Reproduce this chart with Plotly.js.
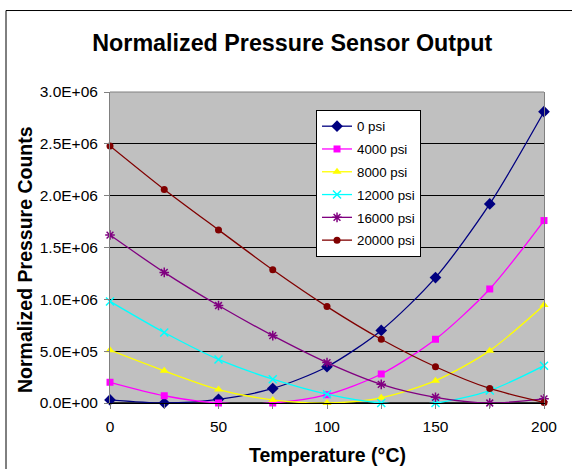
<!DOCTYPE html>
<html>
<head>
<meta charset="utf-8">
<script src="https://cdn.plot.ly/plotly-3.0.1.min.js"></script>
<style>html,body{margin:0;padding:0;background:#fff;}#chart{width:572px;height:469px;}</style>
</head>
<body>
<div id="chart"></div>
<script>
const temperature = [0, 25, 50, 75, 100, 125, 150, 175, 200];
const psi0     = [0.03e6, 0.00e6, 0.035e6, 0.14e6, 0.35e6, 0.70e6, 1.21e6, 1.92e6, 2.81e6];
const psi4000  = [0.20e6, 0.07e6, 0.00e6, 0.00e6, 0.08e6, 0.28e6, 0.615e6, 1.10e6, 1.76e6];
const psi8000  = [0.51e6, 0.31e6, 0.13e6, 0.03e6, 0.00e6, 0.05e6, 0.215e6, 0.505e6, 0.945e6];
const psi12000 = [0.98e6, 0.68e6, 0.42e6, 0.23e6, 0.085e6, 0.00e6, 0.00e6, 0.12e6, 0.36e6];
const psi16000 = [1.62e6, 1.26e6, 0.94e6, 0.65e6, 0.39e6, 0.18e6, 0.055e6, 0.00e6, 0.04e6];
const psi20000 = [2.48e6, 2.06e6, 1.67e6, 1.285e6, 0.93e6, 0.615e6, 0.35e6, 0.14e6, 0.005e6];
const seriesNames = ['0 psi', '4000 psi', '8000 psi', '12000 psi', '16000 psi', '20000 psi'];
const xTickVals = [0, 25, 50, 75, 100, 125, 150, 175, 200];
const xTickText = ['0', '', '50', '', '100', '', '150', '', '200'];
const yTickVals = [0, 0.5e6, 1.0e6, 1.5e6, 2.0e6, 2.5e6, 3.0e6];
const yTickText = ['0.0E+00', '5.0E+05', '1.0E+06', '1.5E+06', '2.0E+06', '2.5E+06', '3.0E+06'];

const FONT = 'Liberation Sans, Arial, sans-serif';
const styles = [
  {color: '#000080', symbol: 'diamond', size: 9, lw: 0},
  {color: '#FF00FF', symbol: 'square', size: 7, lw: 0},
  {color: '#FFFF00', symbol: 'triangle-up', size: 8, lw: 0},
  {color: '#00FFFF', symbol: 'x-thin', size: 8, lw: 1.5},
  {color: '#800080', symbol: 'asterisk', size: 8, lw: 1.5},
  {color: '#800000', symbol: 'circle', size: 7, lw: 0}
];
const seriesData = [psi0, psi4000, psi8000, psi12000, psi16000, psi20000];

const traces = seriesData.map((ys, i) => ({
  type: 'scatter', mode: 'lines+markers',
  x: temperature, y: ys, name: seriesNames[i],
  legendgroup: 'g' + i,
  line: {color: styles[i].color, width: 1.3, shape: 'spline', smoothing: 0.8},
  marker: {color: styles[i].color, symbol: styles[i].symbol, size: styles[i].size,
           line: {color: styles[i].color, width: styles[i].lw}},
  cliponaxis: false
}));

const layout = {
  width: 572, height: 469,
  margin: {l: 110, r: 28, t: 92, b: 66},
  paper_bgcolor: '#ffffff',
  plot_bgcolor: '#C0C0C0',
  font: {family: FONT, color: '#000'},
  title: {text: '<b>Normalized Pressure Sensor Output</b>', font: {family: FONT, size: 23.3, color: '#000'},
          x: 0.511, xref: 'container', xanchor: 'center', y: 0.908, yref: 'container', yanchor: 'middle'},
  showlegend: true,
  legend: {x: 0.4747, y: 0.942, xanchor: 'left', yanchor: 'top',
           bgcolor: '#ffffff', bordercolor: '#000', borderwidth: 1,
           font: {family: FONT, size: 13.3, color: '#000'},
           traceorder: 'grouped', tracegroupgap: 2.5},
  xaxis: {range: [0, 200], tickvals: xTickVals, ticktext: xTickText,
          ticks: 'outside', ticklen: 5, tickcolor: '#808080', tickwidth: 1,
          showgrid: false, zeroline: false, showline: true, linecolor: '#000', linewidth: 1,
          tickfont: {family: FONT, size: 15.5, color: '#000'}, ticklabelstandoff: 4},
  yaxis: {range: [0, 3e6], tickvals: yTickVals, ticktext: yTickText,
          ticks: 'outside', ticklen: 5, tickcolor: '#808080', tickwidth: 1,
          showgrid: true, gridcolor: '#000', gridwidth: 1,
          zeroline: false, showline: true, linecolor: '#808080', linewidth: 1, mirror: true,
          tickfont: {family: FONT, size: 15.5, color: '#000'}, ticklabelstandoff: 3},
  shapes: [
    {type: 'line', xref: 'paper', yref: 'paper', x0: 0, x1: 1, y0: 1, y1: 1,
     line: {color: '#808080', width: 1}, layer: 'above'},
    {type: 'line', xref: 'paper', yref: 'paper', x0: 0, x1: 1, y0: 0, y1: 0,
     line: {color: '#000', width: 1.5}, layer: 'below'},
    {type: 'rect', xref: 'paper', yref: 'paper', x0: -0.2396, x1: 1.3, y0: -0.5, y1: 1.262,
     line: {color: '#000', width: 1}, layer: 'below'}
  ],
  annotations: [
    {text: '<b>Normalized Pressure Counts</b>', xref: 'paper', yref: 'paper',
     x: -0.1959, y: 0.463, textangle: -90, showarrow: false,
     xanchor: 'center', yanchor: 'middle', font: {family: FONT, size: 19.5, color: '#000'}},
    {text: '<b>Temperature (°C)</b>', xref: 'paper', yref: 'paper',
     x: 0.5, y: -0.167, showarrow: false,
     xanchor: 'center', yanchor: 'middle', font: {family: FONT, size: 19.5, color: '#000'}}
  ]
};

Plotly.newPlot('chart', traces, layout, {displayModeBar: false, staticPlot: true});
</script>
</body>
</html>
